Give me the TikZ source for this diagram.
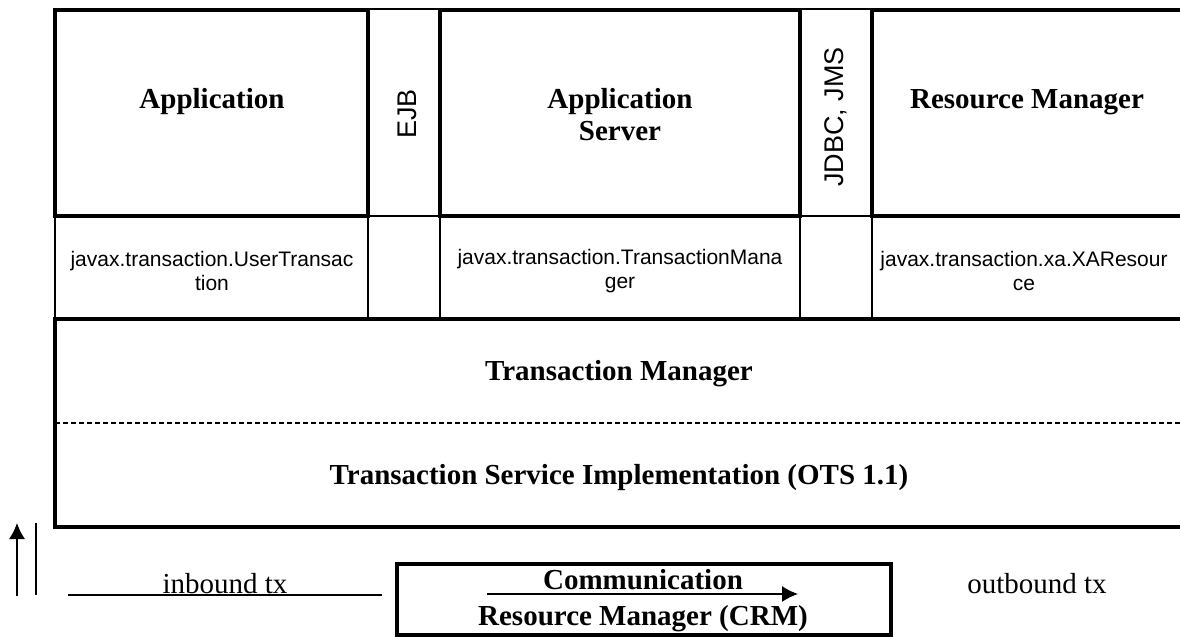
\documentclass[tikz,border=0pt]{standalone}
\usepackage{fontspec}
\setmainfont{Liberation Serif}
\setsansfont{Liberation Sans}
\usetikzlibrary{arrows.meta}

\begin{document}
\begin{tikzpicture}[x=0.5pt, y=-0.5pt]

\tikzstyle{every node} = [inner sep=0pt, font=\fontsize{14.5}{16}\selectfont\bfseries]
\tikzstyle{heavy} = [line width=2pt]
\tikzstyle{light} = [line width=0.75pt]
\tikzstyle{api} = [align=center, font=\fontsize{10.5}{12}\selectfont\sffamily]
\tikzstyle{spec} = [rotate=90, font=\fontsize{13.5}{14}\selectfont\sffamily]
\tikzstyle{plain} = [font=\fontsize{14.5}{16}\selectfont]
\tikzstyle{flow} = [line width=0.7pt, -{Latex[length=8pt,width=8pt]}]

\clip (0,0) rectangle (1180,637);

\draw[light] (55,216) rectangle (1190,318);
\draw[light] (368,9) rectangle (440,318);
\draw[light] (800,9) rectangle (872,318);

\draw[heavy] (55,10) rectangle (368,216);
\draw[heavy] (440,10) rectangle (800,216);
\draw[heavy] (872,10) rectangle (1190,216);

\draw[heavy] (55,319) rectangle (1190,527);
\draw[light, dashed, dash pattern=on 2.5pt off 1.5pt] (55,423) -- (1190,423);

\draw[heavy] (397,564) rectangle (891,635);

\node[anchor=base] (a) at (212,108) {Application};
\node[spec] (e) at (407,114) {EJB};
\node[align=center] (s) at (620,115) {Application\\Server};
\node[spec] (j) at (836,117) {JDBC, JMS};
\node[anchor=base] (r) at (1027,108) {Resource Manager};

\node[api] (u) at (212,271) {javax.transaction.UserTransac\\tion};
\node[api] (t) at (620,271) {javax.transaction.TransactionMana\\ger};
\node[api] (x) at (1024,271) {javax.transaction.xa.XAResour\\ce};

\node (m) at (619,374) {Transaction Manager};
\node (i) at (619,478) {Transaction Service Implementation (OTS 1.1)};

\node[plain, anchor=base] (in) at (225,593) {inbound tx};
\node[align=center, font=\fontsize{14.5}{18}\selectfont\bfseries] (c) at (643,601) {Communication\\Resource Manager (CRM)};
\node[plain, anchor=base] (out) at (1037,593) {outbound tx};

\coordinate (up0) at (17,596);
\coordinate (up1) at (17,523);
\coordinate (bar0) at (36,595);
\coordinate (bar1) at (36,523);
\coordinate (in0) at (68,595);
\coordinate (in1) at (382,595);
\coordinate (cm0) at (487,594);
\coordinate (cm1) at (798,594);

\draw[flow] (up0) -- (up1);
\draw[line width=0.7pt] (bar0) -- (bar1);
\draw[line width=0.7pt] (in0) -- (in1);
\draw[flow] (cm0) -- (cm1);

\end{tikzpicture}
\end{document}
